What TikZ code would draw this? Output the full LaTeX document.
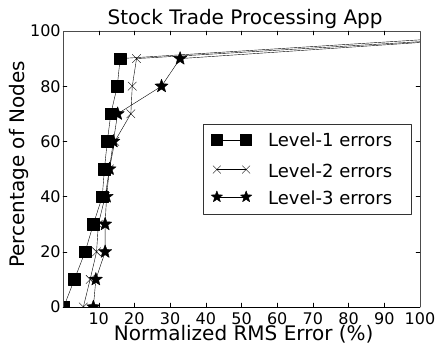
\documentclass[tikz,border=0pt]{standalone}
\usepackage{fontspec}
\setmainfont{DejaVu Sans}
\usetikzlibrary{plotmarks}

% filled five-pointed star mark
\pgfdeclareplotmark{fstar}{%
  \pgfpathmoveto{\pgfpointpolar{90}{\pgfplotmarksize}}%
  \foreach \a in {1,...,4}{%
    \pgfpathlineto{\pgfpointpolar{90+72*\a-36}{0.42\pgfplotmarksize}}%
    \pgfpathlineto{\pgfpointpolar{90+72*\a}{\pgfplotmarksize}}%
  }%
  \pgfpathlineto{\pgfpointpolar{90-36}{0.42\pgfplotmarksize}}%
  \pgfpathclose
  \pgfusepathqfillstroke}

\tikzset{
  levelone/.style={black, mark=square*, mark size=5.8pt, mark options={fill=black}},
  leveltwo/.style={black, mark=x, mark size=6pt},
  levelthree/.style={black, mark=fstar, mark size=7pt, mark options={fill=black}},
  ticklabel/.style={inner sep=0pt, font=\fontsize{16}{16}\selectfont},
  axislabel/.style={inner sep=0pt, anchor=base, font=\fontsize{20}{20}\selectfont},
  legendtext/.style={inner sep=0pt, anchor=base west, font=\fontsize{18}{18}\selectfont},
}

\begin{document}
\begin{tikzpicture}[x=3.57pt, y=2.76pt, line join=round, line cap=round]
        \useasboundingbox (-17.65,-15.22) rectangle (105.04,111.23);
        \coordinate (O) at (0,0);
        \coordinate (X) at (100,0);
        \coordinate (T) at (100,100);
        \coordinate (Y) at (0,100);

        % curves, clipped to the axes
        \begin{scope}
            \clip (O) rectangle (T);
            \draw[levelone] plot coordinates {(0.2,0) (3.2,10) (6.2,20) (8.5,30) (11,40) (11.6,50) (12.4,60) (13.4,70) (15.2,80) (16,90) (110,97.6)};
            \draw[leveltwo] plot coordinates {(5.7,0) (7.6,10) (9.4,20) (9.9,30) (11.8,40) (13,50) (14.5,60) (19,70) (19.4,80) (20.6,90) (110,96.9)};
            \draw[levelthree] plot coordinates {(8.5,0) (9.2,10) (11.8,20) (11.8,30) (12.2,40) (13,50) (14.1,60) (15.3,70) (27.6,80) (32.8,90) (110,96.7)};
        \end{scope}

        % frame and ticks
        \draw[black!70] (O)--(Y)--(T)--(X);
        \draw (O)--(X);
        \foreach \x in {10,20,...,90} {
            \draw (\x,0)--++(0,4pt) (\x,100)--++(0,-4pt);
        }
        \foreach \x in {10,20,...,100}
            \node[ticklabel, anchor=north] (x\x) at (\x,-1.85) {\x};
        \foreach \y in {20,40,60,80} {
            \draw (0,\y)--++(4pt,0) (100,\y)--++(-4pt,0);
        }
        \foreach \y in {0,20,...,100}
            \node[ticklabel, anchor=east] (y\y) at (-0.6,\y) {\y};

        \node[axislabel] (xlabel) at (50.6,-12.3) {Normalized RMS Error (\%)};
        \node[axislabel, rotate=90] (ylabel) at (-10.84,51.7) {Percentage of Nodes};
        \node[axislabel] (title) at (51,102.4) {Stock Trade Processing App};

        % legend
        \draw[black!80, fill=white] (39.3,33.7) rectangle (97.4,66.2);
        \draw[levelone, mark size=5.5pt] plot coordinates {(43.1,60.5) (51.3,60.5)};
        \draw[leveltwo, mark size=5.5pt] plot coordinates {(43.1,49.8) (51.3,49.8)};
        \draw[levelthree, mark size=6pt] plot coordinates {(43.1,39.9) (51.3,39.9)};
        \node[legendtext] (l1) at (57.4,58.3) {Level-1 errors};
        \node[legendtext] (l2) at (57.4,47.0) {Level-2 errors};
        \node[legendtext] (l3) at (57.4,37.0) {Level-3 errors};
    \end{tikzpicture}
\end{document}
